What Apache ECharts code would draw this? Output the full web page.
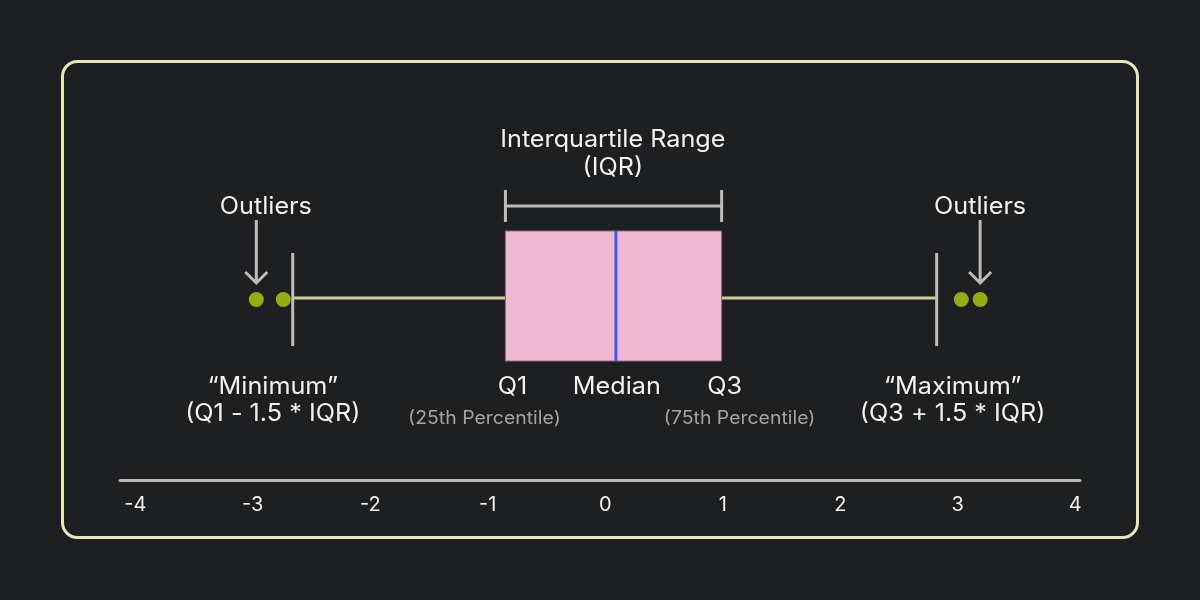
<!DOCTYPE html>
<html>
<head>
<meta charset="utf-8">
<title>Boxplot explained</title>
<script src="https://cdn.jsdelivr.net/npm/echarts@6/dist/echarts.min.js"></script>
<style>
  html, body { margin: 0; padding: 0; background: #1e1f21; }
  #main { width: 1200px; height: 600px; }
</style>
</head>
<body>
<div id="main"></div>
<script>
// axis ticks
var ticks = [-4, -3, -2, -1, 0, 1, 2, 3, 4];
// min, Q1, median, Q3, max
var boxStats = [-2.66, -0.85, 0.09, 0.99, 2.82];
var outliersLow = [-2.97, -2.74];
var outliersHigh = [3.03, 3.19];

var FONT = 'Inter, "Noto Sans", sans-serif';
var WHITE = '#f2f2f2';
var GREY = '#bdbdbd';

var chart = echarts.init(document.getElementById('main'), null, { renderer: 'canvas' });

// text is a little tracked out in the original, stretch slightly
function txt(x, y, s, size, color, sx) {
  return {
    type: 'text',
    x: x, y: y,
    scaleX: sx || 1.05,
    style: {
      x: 0, y: 0, text: s,
      fill: color || WHITE,
      fontSize: size || 24,
      fontFamily: FONT,
      align: 'center',
      verticalAlign: 'middle'
    }
  };
}
function seg(x1, y1, x2, y2, color) {
  return {
    type: 'line',
    shape: { x1: x1, y1: y1, x2: x2, y2: y2 },
    style: { stroke: color || GREY, lineWidth: 3 }
  };
}
function arrow(x, cy) {
  return [
    seg(x, cy - 78, x, cy - 15),
    {
      type: 'polyline',
      shape: { points: [[x - 11, cy - 26], [x, cy - 15], [x + 11, cy - 26]] },
      style: { stroke: GREY, lineWidth: 3, fill: null }
    }
  ];
}

function renderBox(params, api) {
  var mn = api.coord([api.value(0), 0]);
  var q1 = api.coord([api.value(1), 0]);
  var md = api.coord([api.value(2), 0]);
  var q3 = api.coord([api.value(3), 0]);
  var mx = api.coord([api.value(4), 0]);
  var cy = mn[1];
  var lo = api.coord([outliersLow[0], 0])[0];
  var lo2 = api.coord([outliersLow[1], 0])[0];
  var hi = api.coord([outliersHigh[1], 0])[0];

  var kids = [
    // whiskers
    seg(mn[0], cy, q1[0], cy, '#cfcd9d'),
    seg(q3[0], cy, mx[0], cy, '#cfcd9d'),
    seg(mn[0], cy - 45, mn[0], cy + 48),
    seg(mx[0], cy - 45, mx[0], cy + 48),
    // box
    {
      type: 'rect',
      shape: { x: q1[0], y: cy - 67, width: q3[0] - q1[0], height: 130 },
      style: { fill: '#f2b8d3', stroke: '#8a6d7b', lineWidth: 1 }
    },
    seg(md[0], cy - 67, md[0], cy + 63, '#3f58f2'),
    // IQR bracket
    seg(q1[0], cy - 92, q3[0], cy - 92),
    seg(q1[0], cy - 108, q1[0], cy - 76),
    seg(q3[0], cy - 108, q3[0], cy - 76),
    txt(md[0] - 3, cy - 158, 'Interquartile Range'),
    txt(md[0] - 3, cy - 130, '(IQR)'),
    // outlier notes
    txt((lo + lo2) / 2 - 4, cy - 91, 'Outliers'),
    txt(hi, cy - 91, 'Outliers'),
    // lower labels
    txt(q1[0] + 7, cy + 89, 'Q1'),
    txt(md[0] + 1, cy + 89, 'Median'),
    txt(q3[0] + 3, cy + 89, 'Q3'),
    txt(q1[0] - 21, cy + 121, '(25th Percentile)', 18, '#a3a3a3', 1.08),
    txt(q3[0] + 18, cy + 121, '(75th Percentile)', 18, '#a3a3a3', 1.08),
    txt(mn[0] - 20, cy + 89, '\u201cMinimum\u201d'),
    txt(mn[0] - 20, cy + 116, '(Q1 - 1.5 * IQR)'),
    txt(mx[0] + 16, cy + 89, '\u201cMaximum\u201d'),
    txt(mx[0] + 16, cy + 116, '(Q3 + 1.5 * IQR)')
  ];
  kids = kids.concat(arrow(lo, cy), arrow(hi, cy));
  return { type: 'group', children: kids };
}

var option = {
  backgroundColor: '#1e1f21',
  animation: false,
  graphic: [{
    type: 'rect',
    shape: { x: 62.5, y: 61.5, width: 1075, height: 476, r: 15 },
    style: { fill: 'transparent', stroke: '#e9e6bf', lineWidth: 3 },
    z: -1
  }],
  grid: { left: 120, right: 120, top: 116, bottom: 120, outerBoundsMode: 'none' },
  xAxis: {
    type: 'value',
    min: -4.13,
    max: 4.04,
    axisLine: { show: true, onZero: false, lineStyle: { color: '#b8b8b8', width: 3 } },
    axisTick: { show: false },
    splitLine: { show: false },
    axisLabel: {
      customValues: ticks,
      color: WHITE,
      fontSize: 20,
      fontFamily: FONT,
      margin: 15
    }
  },
  yAxis: {
    type: 'value',
    min: -1,
    max: 1,
    show: false
  },
  series: [
    {
      type: 'custom',
      clip: false,
      renderItem: renderBox,
      data: [boxStats]
    },
    {
      type: 'scatter',
      symbol: 'circle',
      symbolSize: 15,
      symbolOffset: [0, 1.5],
      itemStyle: { color: '#94ad17', opacity: 1 },
      data: outliersLow.concat(outliersHigh).map(function (v) { return [v, 0]; }),
      z: 3
    }
  ]
};
chart.setOption(option);
</script>
</body>
</html>
